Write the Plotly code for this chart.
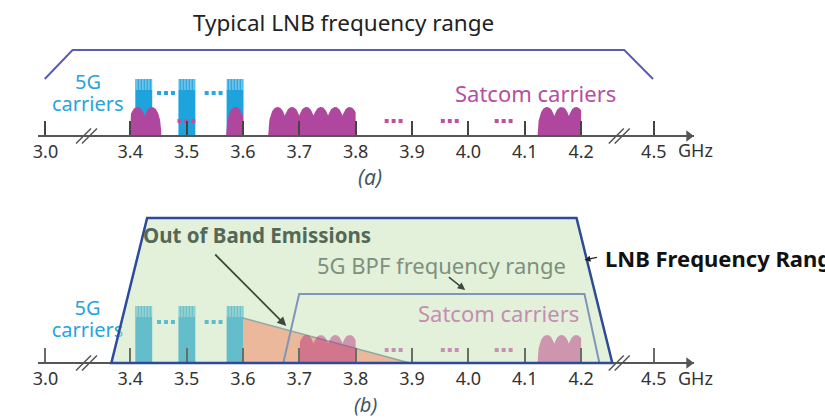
import numpy as np
import plotly.graph_objects as go

# ---------------- data (GHz positions, heights in px-units) ----------------
tick_vals = [3.2496, 3.4, 3.5, 3.6, 3.7, 3.8, 3.9, 4.0, 4.1, 4.2, 4.329]
tick_text = ["3.0", "3.4", "3.5", "3.6", "3.7", "3.8", "3.9", "4.0", "4.1", "4.2", "4.5"]
axis_breaks = [3.3224, 4.2677]

carrier_5g_centers = [3.424, 3.5005, 3.586]
carrier_5g_width = 0.030
carrier_5g_height = 57

# satcom carrier groups: (centers, clip_lo, clip_hi)
satcom_groups_a = [
    ([3.4128, 3.4384], 3.4, 4.5),
    ([3.5870], 3.0, 3.6),
    ([3.6615, 3.6871, 3.7126, 3.7382, 3.7638, 3.7894], 3.0, 3.8),
    ([4.1395, 4.1654, 4.1913], 3.0, 4.2),
]
satcom_groups_b = [
    ([3.7126, 3.7382, 3.7638, 3.7894], 3.7, 3.8),
    ([4.1395, 4.1654, 4.1913], 3.0, 4.2),
]
satcom_height_a = 29
satcom_height_b = 28

dots_5g = [3.4635, 3.548]
dots_sat_a = [3.4997, 3.8674, 3.967, 4.0626]
dots_sat_b = [3.8674, 3.967, 4.0626]

lnb_a_x = [3.2483, 3.2977, 4.2766, 4.3277]
lnb_a_y = [57, 86, 86, 57]
lnb_b_x = [3.3665, 3.4300, 4.1919, 4.2554]
lnb_b_y = [0, 145, 145, 0]
bpf_x = [3.6716, 3.6998, 4.2060, 4.2325]
bpf_y = [0, 69, 69, 0]
oob_x = [3.6, 3.6, 3.896]
oob_y = [0, 45, 0]

PX = 1 / 567.0  # GHz per pixel
X_RANGE = [3.236, 4.400]

FONT = "Noto Sans"
BLUE = "#1fa3dc"
BLUE_CAP = "#86cdee"
MAG = "#b0479e"
BLUE_B = "#0099de"
BLUE_B_CAP = "#7fcdf0"

fig = go.Figure()


def envelope(centers, lo_clip, hi_clip, h, hw=9.5 * PX, p=2.2):
    lo = max(lo_clip, min(centers) - hw)
    hi = min(hi_clip, max(centers) + hw)
    xs = np.linspace(lo, hi, 300)
    ys = np.zeros_like(xs)
    for c in centers:
        t = np.abs(xs - c) / hw
        v = np.where(t < 1, h * np.clip(1 - t ** p, 0, 1) ** (1 / p), 0)
        ys = np.maximum(ys, v)
    xx = np.concatenate([[lo], xs, [hi], [lo]])
    yy = np.concatenate([[0], ys, [0], [0]])
    return xx, yy


def carriers(xa, ya, color, cap):
    n = len(carrier_5g_centers)
    fig.add_trace(go.Bar(x=carrier_5g_centers, y=[carrier_5g_height - 11] * n, base=[0] * n,
                         width=carrier_5g_width, marker=dict(color=color, line=dict(width=0)),
                         xaxis=xa, yaxis=ya, showlegend=False, hoverinfo="skip"))
    fig.add_trace(go.Bar(x=carrier_5g_centers, y=[11] * n, base=[carrier_5g_height - 11] * n,
                         width=carrier_5g_width,
                         marker=dict(color=cap, line=dict(width=0),
                                     pattern=dict(shape="|", size=3, solidity=0.5,
                                                  fgcolor=color, bgcolor=cap, fillmode="replace")),
                         xaxis=xa, yaxis=ya, showlegend=False, hoverinfo="skip"))


def dots(centers, h, color, xa, ya):
    xs, ys = [], []
    for c in centers:
        for k in (-1, 0, 1):
            xs.append(c + k * 7 * PX)
            ys.append(h)
    fig.add_trace(go.Scatter(x=xs, y=ys, mode="markers", cliponaxis=False,
                             marker=dict(symbol="square", size=4, color=color),
                             xaxis=xa, yaxis=ya, showlegend=False, hoverinfo="skip"))


def breaks_and_arrow(xa, ya, color):
    xs = []
    for b in axis_breaks:
        xs += [b - 3 * PX, b + 3 * PX]
    fig.add_trace(go.Scatter(x=xs, y=[0] * len(xs), mode="markers", cliponaxis=False,
                             marker=dict(symbol="line-ne", size=15, line=dict(width=1.5, color=color)),
                             xaxis=xa, yaxis=ya, showlegend=False, hoverinfo="skip"))
    fig.add_trace(go.Scatter(x=[X_RANGE[1] - 5 * PX], y=[0], mode="markers", cliponaxis=False,
                             marker=dict(symbol="triangle-right", size=10, color=color),
                             xaxis=xa, yaxis=ya, showlegend=False, hoverinfo="skip"))


# ---------------- panel (a) ----------------
carriers("x", "y", BLUE, BLUE_CAP)
for cs, lo, hi in satcom_groups_a:
    xx, yy = envelope(cs, lo, hi, satcom_height_a)
    fig.add_trace(go.Scatter(x=xx, y=yy, mode="lines", fill="toself", fillcolor=MAG,
                             line=dict(width=0, color=MAG), xaxis="x", yaxis="y",
                             showlegend=False, hoverinfo="skip"))
dots(dots_5g, 43, "#29a8e0", "x", "y")
dots(dots_sat_a, 15, "#c0509f", "x", "y")
fig.add_trace(go.Scatter(x=lnb_a_x, y=lnb_a_y, mode="lines", line=dict(color="#5a5db5", width=2),
                         xaxis="x", yaxis="y", showlegend=False, hoverinfo="skip"))
breaks_and_arrow("x", "y", "#555")

# ---------------- panel (b) ----------------
carriers("x2", "y2", BLUE_B, BLUE_B_CAP)
fig.add_trace(go.Scatter(x=[3.3242, 3.3242], y=[53, 31], mode="text", text=["5G", "carriers"],
                         textfont=dict(family=FONT, size=20, color="#29a3dc"), cliponaxis=False,
                         xaxis="x2", yaxis="y2", showlegend=False, hoverinfo="skip"))
fig.add_trace(go.Scatter(x=lnb_b_x, y=lnb_b_y, mode="lines", fill="toself",
                         fillcolor="rgba(199,225,181,0.5)", line=dict(width=0),
                         xaxis="x2", yaxis="y2", showlegend=False, hoverinfo="skip"))
fig.add_trace(go.Scatter(x=oob_x, y=oob_y, mode="lines", fill="toself", fillcolor="#ecb89c",
                         line=dict(width=0), xaxis="x2", yaxis="y2", showlegend=False, hoverinfo="skip"))
fig.add_trace(go.Scatter(x=oob_x[1:], y=oob_y[1:], mode="lines", line=dict(color="#8ea8a4", width=1.5),
                         xaxis="x2", yaxis="y2", showlegend=False, hoverinfo="skip"))
for cs, lo, hi in satcom_groups_b:
    xx, yy = envelope(cs, lo, hi, satcom_height_b)
    fig.add_trace(go.Scatter(x=xx, y=yy, mode="lines", fill="toself", fillcolor="rgba(180,40,120,0.45)",
                             line=dict(width=0), xaxis="x2", yaxis="y2",
                             showlegend=False, hoverinfo="skip"))
dots(dots_5g, 41, "#5cbecd", "x2", "y2")
dots(dots_sat_b, 13, "#c98fb6", "x2", "y2")
fig.add_trace(go.Scatter(x=bpf_x, y=bpf_y, mode="lines", line=dict(color="#7f95ba", width=2),
                         xaxis="x2", yaxis="y2", showlegend=False, hoverinfo="skip"))
breaks_and_arrow("x2", "y2", "#555")

path = "M " + " L ".join(f"{x},{y}" for x, y in zip(lnb_b_x, lnb_b_y)) + " Z"
fig.add_shape(type="path", path=path, xref="x2", yref="y2", layer="above",
              line=dict(color="#2d4a9b", width=2.5))

# ---------------- axes ----------------
axis_common = dict(range=X_RANGE, domain=[33 / 825, 693 / 825], tickmode="array",
                   tickvals=tick_vals, ticktext=tick_text, ticks="inside", ticklen=14,
                   tickwidth=1.5, showline=True, linewidth=1.5, linecolor="#555",
                   showgrid=False, zeroline=False, anchor="free",
                   tickfont=dict(family=FONT, size=18, color="#333"))
fig.update_layout(
    xaxis=dict(**axis_common, position=1 - 136 / 418, tickcolor="#444"),
    xaxis2=dict(**axis_common, position=1 - 363 / 418, tickcolor="#667066"),
    yaxis=dict(range=[-24, 136], domain=[1 - 160 / 418, 1], visible=False, fixedrange=True),
    yaxis2=dict(range=[-27, 168], domain=[1 - 390 / 418, 1 - 195 / 418], visible=False, fixedrange=True),
    width=825, height=418, margin=dict(l=0, r=0, t=0, b=0),
    paper_bgcolor="white", plot_bgcolor="rgba(0,0,0,0)", barmode="overlay",
    showlegend=False,
)


def ann(text, x, y, xr, yr, size, color, bold=False, italic=False, xanchor="center"):
    if bold:
        text = f"<b>{text}</b>"
    if italic:
        text = f"<i>{text}</i>"
    fig.add_annotation(text=text, x=x, y=y, xref=xr, yref=yr, showarrow=False,
                       xanchor=xanchor, yanchor="middle",
                       font=dict(family=FONT, size=size, color=color))


ann("Typical LNB frequency range", 3.7792, 114, "x", "y", 22.5, "#222")
ann("5G", 3.3242, 55, "x", "y", 20, "#29a3dc")
ann("carriers", 3.3242, 33, "x", "y", 20, "#29a3dc")
ann("Satcom carriers", 4.1196, 43, "x", "y", 22, "#b54ea0")
ann("(a)", 367 / 825, 1 - 177 / 418, "paper", "paper", 21, "#3f5a64", italic=True)
ann("GHz", 695 / 825, -14, "paper", "y", 18, "#333")

ann("Out of Band Emissions", 3.4282 - 5 * PX, 128, "x2", "y2", 20.5, "#556855", bold=True, xanchor="left")
ann("5G BPF frequency range", 3.952, 98, "x2", "y2", 22, "#7d917d")
ann("LNB Frequency Range", 4.2483 - 5 * PX, 105, "x2", "y2", 22, "#111", bold=True, xanchor="left")
ann("Satcom carriers", 4.0543, 50, "x2", "y2", 22, "#c58db2")
ann("(b)", 363 / 825, 1 - 404 / 418, "paper", "paper", 20, "#3f5a64", italic=True)
ann("GHz", 695 / 825, -15, "paper", "y2", 18, "#333")

# pointer arrows
for (hx, hy, tx, ty, w, c) in [(3.6769, 37, 3.5482, 110, 1.8, "#3c4a3c"),
                              (3.9944, 73, 3.9627, 87, 1.5, "#3c4a3c"),
                              (4.2060, 103, 4.2307, 106, 1.2, "#222")]:
    fig.add_annotation(x=hx, y=hy, ax=tx, ay=ty, xref="x2", yref="y2", axref="x2", ayref="y2",
                       showarrow=True, arrowhead=2, arrowsize=1, arrowwidth=w, arrowcolor=c, text="")

fig.write_html("out.html", config={"displayModeBar": False},
               post_script="document.body.style.margin='0';")
